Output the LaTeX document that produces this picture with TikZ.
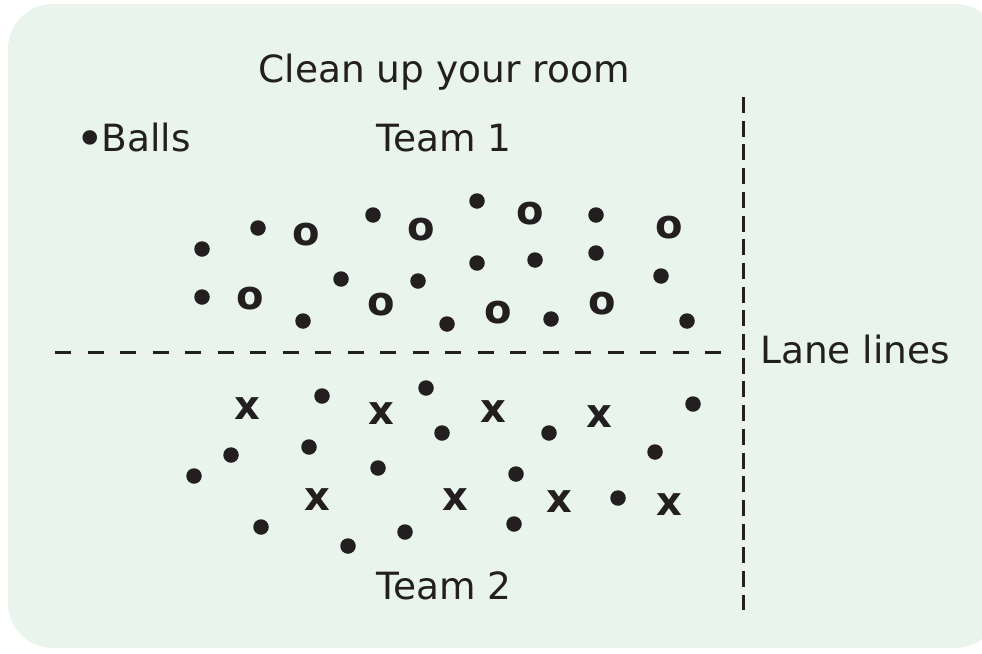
\documentclass[tikz,border=0pt]{standalone}
\usepackage{fontspec}
\setmainfont{DejaVu Sans}
\definecolor{ink}{HTML}{231F20}
\definecolor{roomgreen}{HTML}{E9F5EC}

\begin{document}
\begin{tikzpicture}[x=1pt,y=-1pt,
    ball/.style={circle,fill=ink,inner sep=0pt,minimum size=15.5pt},
    player/.style={text=ink,inner sep=0pt,font=\fontsize{40}{40}\selectfont\bfseries},
    roomtext/.style={text=ink,anchor=base,inner sep=0pt,font=\fontsize{37.5}{40}\selectfont},
    lane/.style={draw=ink,line width=3pt}]
    \useasboundingbox (0,0) rectangle (982,653);
    \clip (0,0) rectangle (982,653);
    \fill[roomgreen,rounded corners=45pt] (8,4) rectangle (1000,648);

    % texts
    \node[roomtext] (title) at (444,82) {Clean up your room};
    \node[roomtext] (team1) at (444,151) {Team 1};
    \node[roomtext] (team2) at (444,599) {Team 2};
    \node[roomtext,anchor=base west] (balls) at (75,151) {\raisebox{-5pt}{\fontsize{50}{40}\selectfont •}\kern-3pt Balls};
    \node[roomtext,anchor=base west] (lanes) at (760,363) {Lane lines};

    % lane lines
    \coordinate (laneW) at (55,352);
    \coordinate (laneE) at (722,352);
    \coordinate (laneN) at (743,97);
    \coordinate (laneS) at (743,610);
    \draw[lane,dash pattern=on 16pt off 16.5pt] (laneW) -- (laneE);
    \draw[lane,dash pattern=on 16pt off 7.7pt] (laneN) -- (laneS);

    % balls
    \foreach \x/\y [count=\i] in {202/249,258/228,373/215,477/201,596/215,
        202/297,341/279,418/281,477/263,535/260,596/253,661/276,
        303/321,447/324,551/319,687/321,
        322/396,426/388,693/404,231/455,309/447,442/433,549/433,655/452,
        194/476,378/468,516/474,618/498,261/527,405/532,514/524,348/546}
        \node[ball] (ball\i) at (\x,\y) {};

    % team 1
    \foreach \x/\y [count=\i] in {306/235,421/230,530/214,669/228,
        250/299,381/305,498/313,602/304}
        \node[player] (o\i) at (\x,\y) {o};

    % team 2
    \foreach \x/\y [count=\i] in {247/409,381/414,493/412,599/417,
        317/500,455/500,559/502,669/505}
        \node[player] (x\i) at (\x,\y) {x};
\end{tikzpicture}
\end{document}
